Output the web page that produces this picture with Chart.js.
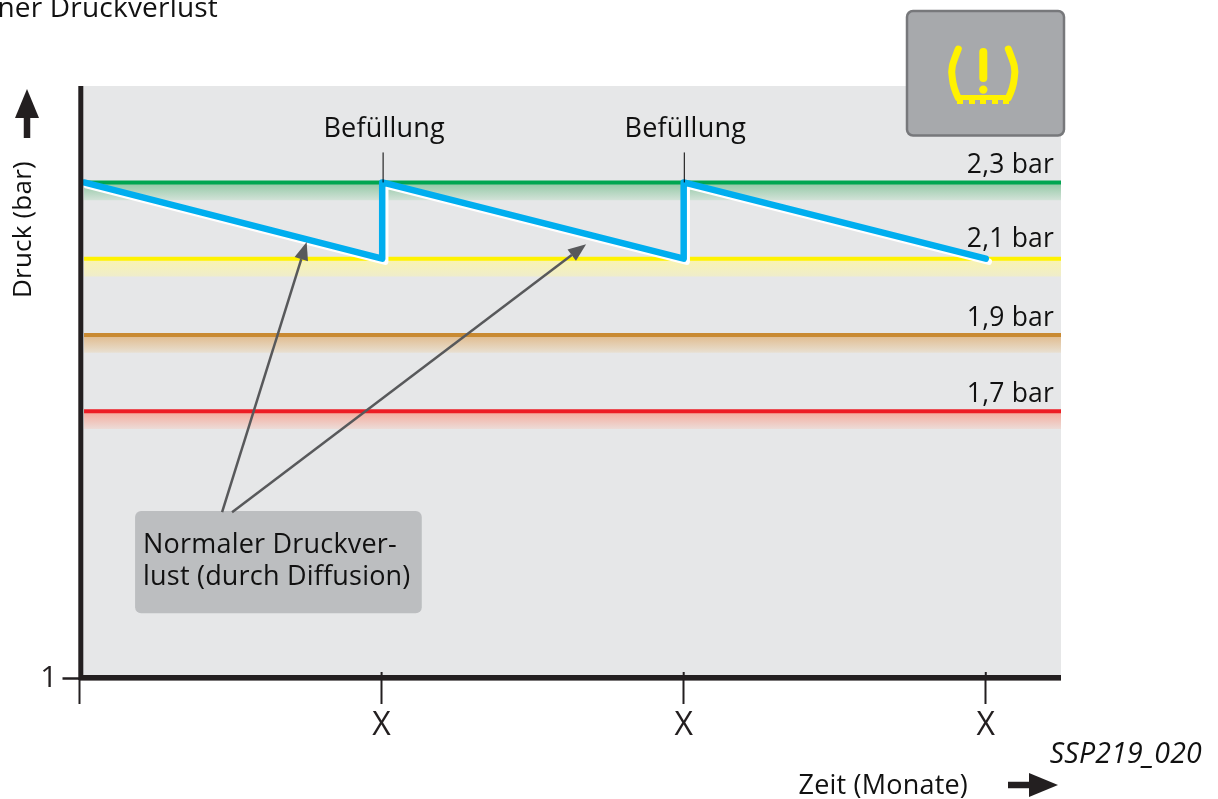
<!DOCTYPE html>
<html>
<head>
<meta charset="utf-8">
<style>
  html, body { margin: 0; padding: 0; background: #fff; }
  canvas { display: block; }
</style>
<script src="https://cdn.jsdelivr.net/npm/chart.js@4"></script>
</head>
<body>
<canvas id="canvas__druck" width="1218" height="799"></canvas>
<script>
// Werte
const monthTicks = [0, 1, 2, 3];
const monthLabels = ["", "X", "X", "X"];
const pressureTicks = [1];
const xMin = 0, xMax = 3.249, yMin = 1, yMax = 2.553;

const levels = [2.3, 2.1, 1.9, 1.7];
const levelLabels = ["2,3 bar", "2,1 bar", "1,9 bar", "1,7 bar"];
const levelColors = ["#00a651", "#fff200", "#c98a32", "#ed1c24"];
const bandColors = ["#8fc7a3", "#faf4b0", "#e0b98a", "#f5a899"];
const bandEndColors = ["#d3e2d8", "#efedcb", "#e8e0d2", "#ecdcd8"];
const levelStart = 0.015;
const bandDepth = 0.047;

const sawX = [0.015, 1.002, 1.002, 2.0, 2.0, 3.0];
const sawY = [2.3, 2.1, 2.3, 2.1, 2.3, 2.1];

const fillX = [1.005, 2.002];
const fillLabel = "Befüllung";

const arrowFromX = [0.472, 0.505];
const arrowFromY = [1.435, 1.435];
const arrowToX = [0.752, 1.677];
const arrowToY = [2.144, 2.138];

const noteX = [0.184, 1.133];
const noteY = [1.438, 1.170];
const noteLines = ["Normaler Druckver-", "lust (durch Diffusion)"];

const fontName = '"Open Sans", "Noto Sans", sans-serif';
const dark = "#231f20";

function texto(ctx, str, x, y, size, align, italic) {
    ctx.font = (italic ? "italic " : "") + size + "px " + fontName;
    ctx.letterSpacing = "0.2px";
    ctx.textAlign = align || "left";
    ctx.textBaseline = "alphabetic";
    ctx.fillStyle = "#111111";
    ctx.fillText(str, x, y);
}

function seta(ctx, x0, y0, x1, y1, len, half, width, color) {
    const a = Math.atan2(y1 - y0, x1 - x0);
    const bx = x1 - Math.cos(a) * len, by = y1 - Math.sin(a) * len;
    ctx.strokeStyle = color;
    ctx.fillStyle = color;
    ctx.lineWidth = width;
    ctx.lineCap = "butt";
    ctx.beginPath();
    ctx.moveTo(x0, y0);
    ctx.lineTo(bx, by);
    ctx.stroke();
    ctx.beginPath();
    ctx.moveTo(x1, y1);
    ctx.lineTo(bx - Math.sin(a) * half, by + Math.cos(a) * half);
    ctx.lineTo(bx + Math.sin(a) * half, by - Math.cos(a) * half);
    ctx.closePath();
    ctx.fill();
}

function desenhaIcone(ctx) {
    ctx.save();
    ctx.beginPath();
    ctx.roundRect(907, 11, 157, 124.5, 6);
    ctx.fillStyle = "#a7a9ac";
    ctx.fill();
    ctx.lineWidth = 2.5;
    ctx.strokeStyle = "#77787b";
    ctx.stroke();

    ctx.strokeStyle = "#fff200";
    ctx.fillStyle = "#fff200";
    ctx.lineCap = "round";
    ctx.lineWidth = 7;
    [1, -1].forEach(s => {
        const cx = 983.3;
        ctx.beginPath();
        ctx.moveTo(cx - s * 25, 49);
        ctx.bezierCurveTo(cx - s * 30, 62, cx - s * 33, 68, cx - s * 31, 78);
        ctx.quadraticCurveTo(cx - s * 30, 88, cx - s * 25, 98);
        ctx.stroke();
    });
    ctx.fillRect(958, 95, 51, 5);
    [957, 969, 980, 992, 1003].forEach(x => ctx.fillRect(x, 99, 6, 5));
    ctx.lineWidth = 8;
    ctx.beginPath();
    ctx.moveTo(983.3, 52);
    ctx.lineTo(983.3, 78);
    ctx.stroke();
    ctx.beginPath();
    ctx.arc(983.3, 89.6, 4.2, 0, Math.PI * 2);
    ctx.fill();
    ctx.restore();
}

const desenho = {
    id: "desenho",
    beforeDraw(chart) {
        const { ctx, chartArea: a } = chart;
        ctx.save();
        ctx.fillStyle = "#e6e7e8";
        ctx.fillRect(a.left, a.top, a.right - a.left, a.bottom - a.top);
        ctx.restore();
    },
    beforeDatasetDraw(chart, args) {
        // sombra branca da linha azul
        if (args.index === 0) {
            const ctx = chart.ctx;
            ctx.save();
            ctx.shadowColor = "#ffffff";
            ctx.shadowOffsetX = 3;
            ctx.shadowOffsetY = 3;
            ctx.shadowBlur = 0;
        }
    },
    afterDatasetDraw(chart, args) {
        if (args.index === 0) chart.ctx.restore();
    },
    afterDatasetsDraw(chart) {
        const { ctx, chartArea: a, scales: { x, y } } = chart;
        ctx.save();

        // eixo vertical grosso e pontas dos ticks
        ctx.fillStyle = dark;
        ctx.fillRect(a.left - 1.2, a.top, 5, a.bottom - a.top + 2);
        ctx.fillRect(a.left, a.bottom - 3, a.right - a.left, 5.6);
        monthTicks.slice(1).forEach(m => ctx.fillRect(x.getPixelForValue(m) - 1, a.bottom - 6, 2, 6));

        levels.forEach((v, i) => texto(ctx, levelLabels[i], 1054, y.getPixelForValue(v) - (i === 1 ? 12 : 9), 26.5, "right"));

        fillX.forEach(v => {
            const px = x.getPixelForValue(v);
            ctx.fillStyle = "#000";
            ctx.fillRect(px - 0.5, y.getPixelForValue(2.3) - 30, 1, 30);
            texto(ctx, fillLabel, px + 1, y.getPixelForValue(2.3) - 45, 27, "center");
        });

        // caixa e setas
        const nx = x.getPixelForValue(noteX[0]), nx2 = x.getPixelForValue(noteX[1]);
        const ny = y.getPixelForValue(noteY[0]), ny2 = y.getPixelForValue(noteY[1]);
        ctx.beginPath();
        ctx.roundRect(nx, ny, nx2 - nx, ny2 - ny, 6);
        ctx.fillStyle = "#bcbec0";
        ctx.fill();
        texto(ctx, noteLines[0], nx + 8, ny + 42, 27);
        texto(ctx, noteLines[1], nx + 8, ny + 74, 27);

        arrowToX.forEach((v, i) => {
            seta(ctx, x.getPixelForValue(arrowFromX[i]), y.getPixelForValue(arrowFromY[i]),
                x.getPixelForValue(v), y.getPixelForValue(arrowToY[i]), 18, 7, 2.5, "#58595b");
        });

        // textos fora da area do grafico
        texto(ctx, "ner Druckverlust", 218, 17, 28, "right");
        texto(ctx, "SSP219_020", 1202, 763, 28.5, "right", true);
        texto(ctx, "Zeit (Monate)", 968, 794, 27, "right");
        seta(ctx, 1008, 785, 1058, 785, 29, 12, 6.5, dark);
        seta(ctx, 27, 138, 27, 89, 29, 12, 6.5, dark);

        ctx.save();
        ctx.translate(31, 298);
        ctx.rotate(-Math.PI / 2);
        texto(ctx, "Druck (bar)", 0, 0, 26, "left");
        ctx.restore();

        desenhaIcone(ctx);
        ctx.restore();
    }
};

const datasets = [{
    label: "Druck",
    data: sawX.map((v, i) => ({ x: v, y: sawY[i] })),
    borderColor: "#00aeef",
    borderWidth: 6.5,
    borderCapStyle: "round",
    borderJoinStyle: "round",
    pointRadius: 0,
    fill: false,
    tension: 0
}];

levels.forEach((v, i) => {
    datasets.push({
        label: levelLabels[i],
        data: [{ x: levelStart, y: v }, { x: xMax, y: v }],
        borderColor: levelColors[i],
        borderWidth: 4,
        pointRadius: 0,
        fill: { value: v - bandDepth },
        backgroundColor(c) {
            const area = c.chart.chartArea;
            if (!area) return bandColors[i];
            const yS = c.chart.scales.y;
            const g = c.chart.ctx.createLinearGradient(0, yS.getPixelForValue(v), 0, yS.getPixelForValue(v - bandDepth));
            g.addColorStop(0, bandColors[i]);
            g.addColorStop(1, bandEndColors[i]);
            return g;
        }
    });
});

new Chart(document.getElementById("canvas__druck").getContext("2d"), {
    type: "line",
    data: { datasets: datasets },
    plugins: [desenho],
    options: {
        responsive: false,
        animation: false,
        layout: { padding: { top: 86, right: 157, left: 0, bottom: 0 } },
        plugins: { legend: { display: false }, tooltip: { enabled: false } },
        scales: {
            x: {
                type: "linear",
                min: xMin,
                max: xMax,
                afterFit(s) { s.height = 121; },
                afterBuildTicks(s) { s.ticks = monthTicks.map(v => ({ value: v })); },
                grid: { drawOnChartArea: false, tickLength: 26, tickWidth: 2, tickColor: dark },
                border: { display: false },
                ticks: {
                    padding: 3,
                    maxRotation: 0,
                    autoSkip: false,
                    color: dark,
                    font: { family: fontName, size: 32 },
                    callback: (v) => monthLabels[monthTicks.indexOf(v)]
                }
            },
            y: {
                type: "linear",
                min: yMin,
                max: yMax,
                afterFit(s) { s.width = 79.5; },
                afterBuildTicks(s) { s.ticks = pressureTicks.map(v => ({ value: v })); },
                grid: { drawOnChartArea: false, tickLength: 17, tickWidth: 2.5, tickColor: dark },
                border: { display: false },
                ticks: {
                    padding: 5,
                    color: dark,
                    font: { family: fontName, size: 30 },
                    callback: (v) => String(v)
                }
            }
        }
    }
});
</script>
</body>
</html>
